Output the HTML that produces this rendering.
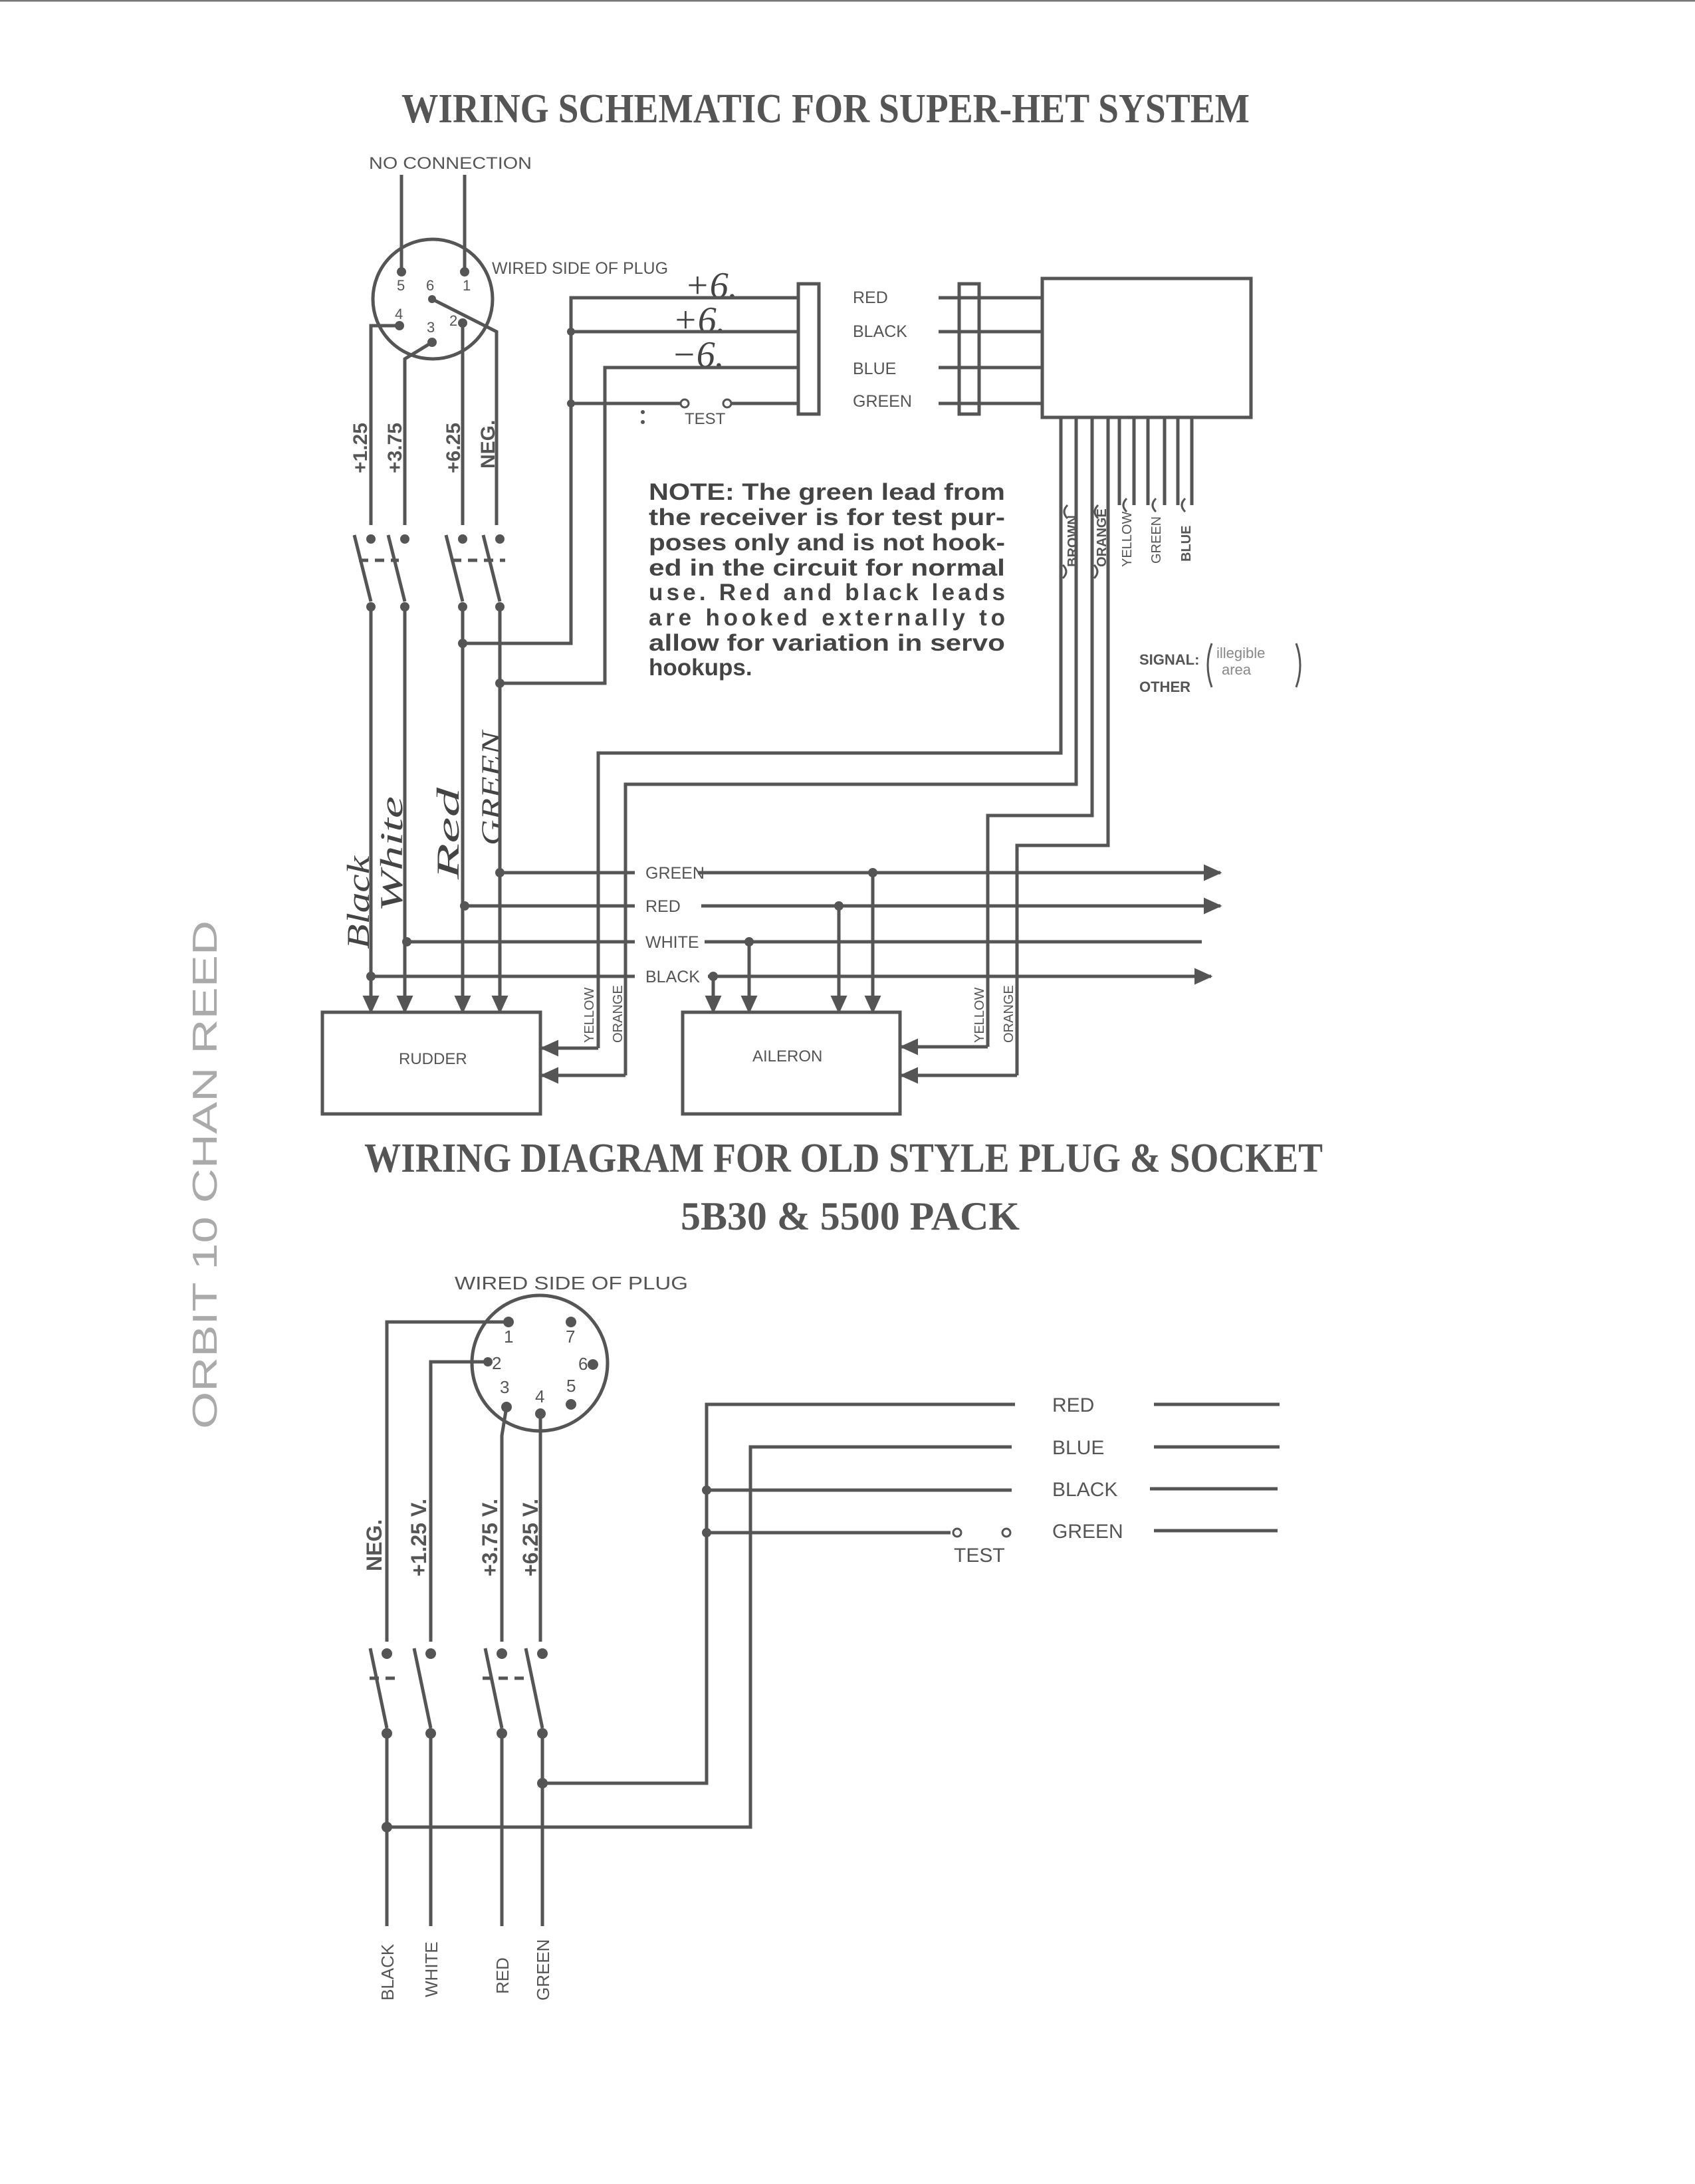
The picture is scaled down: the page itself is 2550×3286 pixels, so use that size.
<!DOCTYPE html>
<html><head><meta charset="utf-8"><style>
html,body{margin:0;padding:0;background:#fff;}
svg{display:block;}
</style></head><body>
<svg width="2550" height="3286" viewBox="0 0 2550 3286" xmlns="http://www.w3.org/2000/svg">
<defs>
<marker id="ar" markerWidth="6" markerHeight="6" refX="5" refY="3" orient="auto" markerUnits="strokeWidth"><path d="M0,0.5 L5.5,3 L0,5.5 z" fill="#555"/></marker>
</defs>
<rect width="2550" height="3286" fill="#fff"/>
<line x1="0" y1="1" x2="2550" y2="1" stroke="#777" stroke-width="3"/>
<g font-family="Liberation Serif, serif" fill="#555" font-weight="bold">
<text x="604" y="184" font-size="62" textLength="1276" lengthAdjust="spacingAndGlyphs">WIRING SCHEMATIC FOR SUPER-HET SYSTEM</text>
<text x="548" y="1763" font-size="62" textLength="1442" lengthAdjust="spacingAndGlyphs">WIRING DIAGRAM FOR OLD STYLE PLUG &amp; SOCKET</text>
<text x="1024" y="1850" font-size="60" textLength="510" lengthAdjust="spacingAndGlyphs">5B30 &amp; 5500 PACK</text>
</g>
<g font-family="Liberation Sans, sans-serif" fill="#555" font-size="25">
<text x="555" y="254" textLength="245" lengthAdjust="spacingAndGlyphs">NO    CONNECTION</text>
<text x="740" y="412" textLength="265" lengthAdjust="spacingAndGlyphs">WIRED  SIDE  OF  PLUG</text>
<text x="597" y="437" font-size="22">5</text><text x="696" y="437" font-size="22">1</text>
<text x="641" y="437" font-size="22">6</text><text x="594" y="480" font-size="22">4</text>
<text x="642" y="500" font-size="22">3</text><text x="676" y="490" font-size="22">2</text>
<text x="1283" y="456">RED</text><text x="1283" y="507">BLACK</text>
<text x="1283" y="563">BLUE</text><text x="1283" y="612">GREEN</text>
<text x="1030" y="638" font-size="24">TEST</text>
<text x="1714" y="1000" font-size="22" font-weight="bold">SIGNAL:</text>
<text x="1714" y="1041" font-size="22" font-weight="bold">OTHER</text>
<text x="1830" y="990" font-size="22" fill="#888">illegible</text>
<text x="1838" y="1015" font-size="22" fill="#888">area</text>
<text x="971" y="1322">GREEN</text><text x="971" y="1372">RED</text>
<text x="971" y="1426">WHITE</text><text x="971" y="1478">BLACK</text>
<text x="600" y="1601" font-size="24">RUDDER</text>
<text x="1132" y="1597" font-size="24">AILERON</text>
<text x="684" y="1940" font-size="28" textLength="351" lengthAdjust="spacingAndGlyphs">WIRED   SIDE   OF   PLUG</text>
<g font-size="26">
<text x="758" y="2020">1</text><text x="851" y="2020">7</text><text x="740" y="2060">2</text>
<text x="870" y="2061">6</text><text x="752" y="2096">3</text><text x="805" y="2110">4</text>
<text x="852" y="2094">5</text></g>
<g font-size="30">
<text x="1583" y="2124">RED</text><text x="1583" y="2188">BLUE</text>
<text x="1583" y="2251">BLACK</text><text x="1583" y="2314">GREEN</text>
<text x="1435" y="2350">TEST</text></g>
</g>
<g font-family="Liberation Sans, sans-serif" fill="#555" font-size="30" font-weight="bold">
<text transform="translate(552,712) rotate(-90)">+1.25</text>
<text transform="translate(604,712) rotate(-90)">+3.75</text>
<text transform="translate(692,712) rotate(-90)">+6.25</text>
<text transform="translate(744,705) rotate(-90)">NEG.</text>
<g font-size="20">
<text transform="translate(1620,853) rotate(-90)">BROWN</text>
<text transform="translate(1664,853) rotate(-90)">ORANGE</text>
<text transform="translate(1702,853) rotate(-90)" font-weight="normal">YELLOW</text>
<text transform="translate(1746,848) rotate(-90)" font-weight="normal">GREEN</text>
<text transform="translate(1791,845) rotate(-90)">BLUE</text>
<text transform="translate(893,1569) rotate(-90)" font-weight="normal">YELLOW</text>
<text transform="translate(936,1569) rotate(-90)" font-weight="normal">ORANGE</text>
<text transform="translate(1480,1569) rotate(-90)" font-weight="normal">YELLOW</text>
<text transform="translate(1524,1569) rotate(-90)" font-weight="normal">ORANGE</text>
</g>
<g font-size="32">
<text transform="translate(574,2364) rotate(-90)">NEG.</text>
<text transform="translate(641,2372) rotate(-90)">+1.25  V.</text>
<text transform="translate(748,2372) rotate(-90)">+3.75  V.</text>
<text transform="translate(809,2372) rotate(-90)">+6.25  V.</text>
</g>
<g font-size="26" font-weight="normal">
<text transform="translate(592,3010) rotate(-90)">BLACK</text>
<text transform="translate(658,3005) rotate(-90)">WHITE</text>
<text transform="translate(765,3000) rotate(-90)">RED</text>
<text transform="translate(826,3010) rotate(-90)">GREEN</text>
</g>
</g>
<g font-family="Liberation Serif, serif" font-style="italic" fill="#444" font-size="48">
<text transform="translate(555,1428) rotate(-90)" textLength="140" lengthAdjust="spacingAndGlyphs">Black</text>
<text transform="translate(605,1372) rotate(-90)" textLength="174" lengthAdjust="spacingAndGlyphs">White</text>
<text transform="translate(690,1323) rotate(-90)" textLength="138" lengthAdjust="spacingAndGlyphs">Red</text>
<text transform="translate(752,1272) rotate(-90)" font-size="40" textLength="172" lengthAdjust="spacingAndGlyphs">GREEN</text>
<text x="1030" y="448" font-size="56">+6.</text>
<text x="1012" y="500" font-size="56">+6.</text>
<text x="1010" y="552" font-size="56">−6.</text>
</g>
<text transform="translate(326,2150) rotate(-90)" font-family="Liberation Sans, sans-serif" fill="#aaa" font-size="52" textLength="765" lengthAdjust="spacingAndGlyphs">ORBIT 10 CHAN REED</text>
<g font-family="Liberation Sans, sans-serif" fill="#444" font-size="35" font-weight="bold">
<text x="976" y="752" textLength="536" lengthAdjust="spacingAndGlyphs">NOTE: The green lead from</text>
<text x="976" y="790" textLength="536" lengthAdjust="spacingAndGlyphs">the receiver is for test pur-</text>
<text x="976" y="828" textLength="536" lengthAdjust="spacingAndGlyphs">poses only and is not hook-</text>
<text x="976" y="866" textLength="536" lengthAdjust="spacingAndGlyphs">ed in the circuit for normal</text>
<text x="976" y="903" textLength="536" lengthAdjust="spacing">use.  Red and black leads</text>
<text x="976" y="941" textLength="536" lengthAdjust="spacing">are hooked externally to</text>
<text x="976" y="979" textLength="536" lengthAdjust="spacingAndGlyphs">allow for variation in servo</text>
<text x="976" y="1016">hookups.</text>
</g>
<g stroke="#555" stroke-width="5" fill="none">
<circle cx="651" cy="450" r="90"/>
<path d="M604 263V409 M699 263V409"/>
<path d="M650 450L747 499V790 M601 490H558V790 M650 515L609 540V790 M696 486V790"/>
<path d="M533 805L558 905 M584 805L609 905 M671 805L696 905 M727 805L752 905"/>
<path d="M540 843H600 M680 843H760" stroke-dasharray="14 10"/>
<g marker-end="url(#ar)">
<path d="M558 913V1523"/><path d="M609 913V1523"/><path d="M696 913V1523"/><path d="M752 913V1523"/>
<path d="M1073 1469V1523"/><path d="M1127 1417V1523"/><path d="M1262 1363V1523"/><path d="M1313 1313V1523"/>
<path d="M900 1577H815"/><path d="M941 1618H815"/><path d="M1486 1575H1356"/><path d="M1530 1618H1356"/>
<path d="M1050 1313H1836"/><path d="M1055 1363H1836"/><path d="M1065 1469H1822"/>
</g>
<path d="M696 968H859V448H1201 M859 499H1201 M752 1028H910V553H1201 M859 607H1024 M1100 607H1201"/>
<rect x="1201" y="427" width="31" height="196"/>
<rect x="1443" y="427" width="30" height="196"/>
<path d="M1412 448H1568 M1412 499H1568 M1412 553H1568 M1412 607H1568"/>
<rect x="1568" y="419" width="314" height="209"/>
<path d="M1596 628V1133H900V1577 M1619 628V1180H941V1618 M1643 628V1227H1486V1575 M1667 628V1272H1530V1618"/>
<path d="M1684 628V760 M1706 628V760 M1727 628V760 M1752 628V760 M1772 628V760 M1793 628V760"/>
<path d="M1606 780q-10 -10 0 -20 M1652 780q-10 -10 0 -20 M1695 770q-10 -10 0 -20 M1739 770q-10 -10 0 -20 M1783 770q-10 -10 0 -20 M1599 870q10 -10 0 -20 M1646 870q10 -10 0 -20" stroke-width="3"/>
<path d="M1823 968q-12 33 0 66 M1950 968q12 33 0 66" stroke-width="3"/>
<path d="M752 1313H955 M699 1363H955 M612 1417H955 M1060 1417H1808 M558 1469H955"/>
<rect x="485" y="1523" width="328" height="153"/>
<rect x="1027" y="1523" width="327" height="153"/>
<circle cx="812" cy="2051" r="102"/>
<path d="M765 1989H582V2470 M734 2049H648V2470 M762 2117L755 2160V2470 M813 2127V2470"/>
<path d="M557 2480L582 2600 M623 2480L648 2600 M730 2480L755 2600 M791 2480L816 2600"/>
<path d="M556 2525H600 M726 2525H800" stroke-dasharray="14 10"/>
<path d="M582 2608V2898 M648 2608V2898 M755 2608V2898 M816 2608V2898"/>
<path d="M816 2683H1063V2113H1527 M582 2749H1129V2177H1522 M1063 2242H1522 M1063 2306H1430"/>
<path d="M1736 2113H1925 M1736 2177H1925 M1730 2240H1922 M1736 2303H1922"/>
<circle cx="1440" cy="2306" r="6" stroke-width="3"/>
<circle cx="1514" cy="2306" r="6" stroke-width="3"/>
<circle cx="1030" cy="607" r="6" stroke-width="3"/>
<circle cx="1094" cy="607" r="6" stroke-width="3"/>
</g>
<g fill="#555">
<circle cx="604" cy="409" r="7"/><circle cx="699" cy="409" r="7"/><circle cx="650" cy="450" r="6"/>
<circle cx="601" cy="490" r="7"/><circle cx="650" cy="515" r="7"/><circle cx="696" cy="486" r="7"/>
<circle cx="558" cy="811" r="7"/><circle cx="609" cy="811" r="7"/><circle cx="696" cy="811" r="7"/><circle cx="752" cy="811" r="7"/>
<circle cx="558" cy="913" r="7"/><circle cx="609" cy="913" r="7"/><circle cx="696" cy="913" r="7"/><circle cx="752" cy="913" r="7"/>
<circle cx="696" cy="968" r="7"/><circle cx="752" cy="1028" r="7"/><circle cx="859" cy="499" r="6"/><circle cx="859" cy="607" r="6"/>
<circle cx="752" cy="1313" r="7"/><circle cx="699" cy="1363" r="7"/><circle cx="612" cy="1417" r="7"/><circle cx="558" cy="1469" r="7"/>
<circle cx="1313" cy="1313" r="7"/><circle cx="1262" cy="1363" r="7"/><circle cx="1127" cy="1417" r="7"/><circle cx="1073" cy="1469" r="7"/>
<circle cx="765" cy="1989" r="8"/><circle cx="859" cy="1989" r="8"/><circle cx="734" cy="2049" r="7"/><circle cx="892" cy="2053" r="8"/>
<circle cx="762" cy="2117" r="8"/><circle cx="813" cy="2127" r="8"/><circle cx="859" cy="2113" r="8"/>
<circle cx="582" cy="2488" r="8"/><circle cx="648" cy="2488" r="8"/><circle cx="755" cy="2488" r="8"/><circle cx="816" cy="2488" r="8"/>
<circle cx="582" cy="2608" r="8"/><circle cx="648" cy="2608" r="8"/><circle cx="755" cy="2608" r="8"/><circle cx="816" cy="2608" r="8"/>
<circle cx="816" cy="2683" r="8"/><circle cx="582" cy="2749" r="8"/><circle cx="1063" cy="2242" r="7"/><circle cx="1063" cy="2306" r="7"/>
<circle cx="967" cy="620" r="3"/><circle cx="967" cy="635" r="3"/>
</g>
</svg>
</body></html>
